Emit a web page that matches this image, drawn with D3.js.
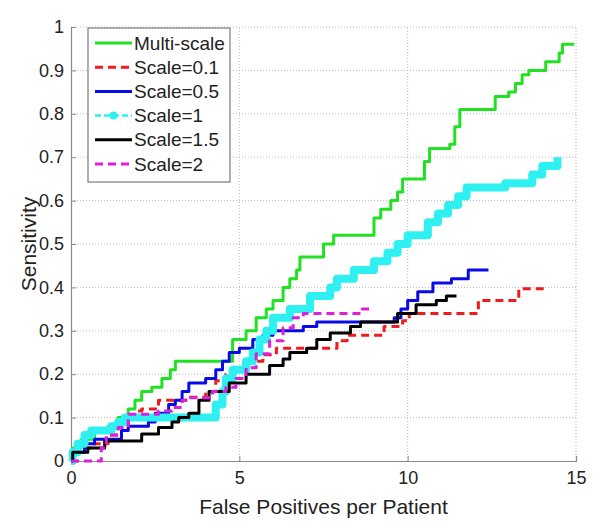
<!DOCTYPE html>
<html>
<head>
<meta charset="utf-8">
<script src="https://cdn.jsdelivr.net/npm/d3@7"></script>
<style>
  html, body { margin: 0; padding: 0; background: #fff; }
  svg { display: block; font-family: "Liberation Sans", Arial, sans-serif; }
</style>
</head>
<body>
<svg id="chart"></svg>
<script>
// [false positives per patient, sensitivity] — step points (value holds until next point)
const multiScale = [[0,0],[0.05,0.03],[0.3,0.05],[0.7,0.07],[1.1,0.08],[1.4,0.10],[1.7,0.12],[1.9,0.14],[2.1,0.16],[2.4,0.17],[2.7,0.19],[2.95,0.21],[3.1,0.23],[4.8,0.28],[5.2,0.30],[5.5,0.33],[5.8,0.35],[6.0,0.37],[6.3,0.40],[6.5,0.42],[6.7,0.44],[6.8,0.47],[7.5,0.50],[7.8,0.52],[9.0,0.56],[9.2,0.58],[9.5,0.60],[9.7,0.62],[9.85,0.65],[10.5,0.69],[10.65,0.72],[11.25,0.73],[11.4,0.77],[11.55,0.81],[12.6,0.84],[13.0,0.85],[13.2,0.87],[13.4,0.89],[13.6,0.90],[14.1,0.92],[14.5,0.94],[14.6,0.96],[14.95,0.96]];
const scale01 = [[0,0],[0.2,0.03],[0.7,0.04],[1.1,0.06],[1.4,0.08],[1.7,0.10],[1.9,0.115],[2.1,0.12],[2.6,0.14],[3.5,0.147],[4.0,0.16],[4.3,0.185],[4.6,0.20],[4.8,0.21],[5.2,0.23],[5.7,0.245],[6.1,0.26],[7.9,0.277],[8.2,0.29],[9.3,0.31],[9.85,0.323],[10.05,0.34],[12.1,0.37],[13.3,0.397],[14.1,0.40]];
const scale05 = [[0,0],[0.1,0.02],[0.4,0.04],[0.7,0.05],[1.5,0.07],[1.7,0.08],[2.3,0.09],[2.5,0.11],[2.9,0.13],[3.1,0.14],[3.3,0.16],[3.5,0.18],[4.0,0.19],[4.3,0.21],[4.5,0.23],[4.7,0.25],[5.0,0.26],[5.4,0.28],[5.7,0.29],[6.0,0.30],[6.9,0.31],[7.3,0.32],[9.6,0.33],[9.8,0.35],[10.0,0.37],[10.3,0.39],[10.75,0.41],[11.3,0.42],[11.8,0.44],[12.4,0.44]];
const scale1 = [[0,0],[0.05,0.02],[0.2,0.04],[0.4,0.06],[0.6,0.07],[1.2,0.08],[1.4,0.09],[1.6,0.10],[4.3,0.13],[4.5,0.16],[4.6,0.19],[4.8,0.21],[5.2,0.23],[5.4,0.25],[5.6,0.28],[5.8,0.30],[6.0,0.33],[6.5,0.35],[7.1,0.38],[7.7,0.40],[7.9,0.42],[8.4,0.44],[9.0,0.46],[9.4,0.48],[9.7,0.50],[10.0,0.52],[10.6,0.55],[10.9,0.57],[11.2,0.59],[11.5,0.61],[11.75,0.63],[12.9,0.64],[13.7,0.66],[14.0,0.68],[14.45,0.70]];
const scale15 = [[0,0],[0.05,0.02],[0.5,0.03],[1.0,0.046],[2.1,0.062],[2.6,0.077],[3.0,0.09],[3.2,0.10],[3.5,0.11],[3.8,0.14],[4.1,0.16],[4.7,0.18],[5.2,0.20],[5.9,0.22],[6.3,0.235],[6.5,0.25],[7.0,0.26],[7.3,0.28],[7.7,0.295],[8.3,0.31],[8.6,0.32],[9.7,0.34],[10.25,0.36],[10.85,0.37],[11.15,0.38],[11.45,0.38]];
const scale2 = [[0,0],[0.9,0.03],[1.05,0.06],[1.4,0.077],[1.7,0.108],[2.6,0.115],[3.0,0.123],[3.3,0.14],[3.5,0.146],[4.2,0.16],[4.6,0.17],[4.9,0.19],[5.2,0.215],[5.5,0.247],[5.9,0.277],[6.3,0.307],[6.6,0.33],[6.9,0.34],[8.65,0.35],[8.95,0.353]];

const seriesNames = ['Multi-scale', 'Scale=0.1', 'Scale=0.5', 'Scale=1', 'Scale=1.5', 'Scale=2'];
const seriesData = [multiScale, scale01, scale05, scale1, scale15, scale2];
const xTicks = [0, 5, 10, 15];
const yTicks = [0, 0.1, 0.2, 0.3, 0.4, 0.5, 0.6, 0.7, 0.8, 0.9, 1];

const styles = [
  { color: '#22e022', width: 3, dash: null },
  { color: '#ee1c1c', width: 3, dash: '8,5' },
  { color: '#0a0ae6', width: 3, dash: null },
  { color: '#2ef0f0', width: 8, dash: null },
  { color: '#000000', width: 3, dash: null },
  { color: '#dd1fdd', width: 3, dash: '8,5' }
];

const width = 600, height = 525;
const margin = { top: 27, right: 24, bottom: 64, left: 71 };

const svg = d3.select('#chart')
  .attr('width', width)
  .attr('height', height)
  .attr('viewBox', `0 0 ${width} ${height}`);

const x = d3.scaleLinear().domain([0, 15]).range([margin.left, width - margin.right]);
const y = d3.scaleLinear().domain([0, 1]).range([height - margin.bottom, margin.top]);

// Grid (dotted)
const grid = svg.append('g').attr('stroke', '#b8b8b8').attr('stroke-width', 1).attr('stroke-dasharray', '1,2');
yTicks.filter(d => d > 0).forEach(d => {
  grid.append('line').attr('x1', x(0)).attr('x2', x(15)).attr('y1', y(d)).attr('y2', y(d));
});
xTicks.filter(d => d > 0).forEach(d => {
  grid.append('line').attr('x1', x(d)).attr('x2', x(d)).attr('y1', y(0)).attr('y2', y(1));
});

// Axes
const xAxis = svg.append('g')
  .attr('transform', `translate(0, ${y(0)})`)
  .call(d3.axisBottom(x).tickValues(xTicks).tickSize(-5).tickPadding(10).tickFormat(d3.format('d')));
const yAxis = svg.append('g')
  .attr('transform', `translate(${x(0)}, 0)`)
  .call(d3.axisLeft(y).tickValues(yTicks).tickSize(-5).tickPadding(7).tickFormat(d => d === 0 || d === 1 ? String(d) : d.toFixed(1)));
[xAxis, yAxis].forEach(a => {
  a.select('.domain').attr('stroke', '#8a8a8a').attr('stroke-width', 1.2);
  a.selectAll('.tick line').attr('stroke', '#8a8a8a');
  a.selectAll('.tick text').attr('fill', '#222').attr('font-size', '18px').attr('font-family', '"Liberation Sans", Arial, sans-serif');
});

// Lines
const line = d3.line().x(d => x(d[0])).y(d => y(d[1])).curve(d3.curveStepAfter);
const plot = svg.append('g');
seriesData.forEach((data, i) => {
  plot.append('path')
    .datum(data)
    .attr('fill', 'none')
    .attr('stroke', styles[i].color)
    .attr('stroke-width', styles[i].width)
    .attr('stroke-linejoin', 'round')
    .attr('stroke-dasharray', styles[i].dash)
    .attr('d', line);
});

// Axis labels
svg.append('text')
  .attr('x', (x(0) + x(15)) / 2)
  .attr('y', 514)
  .attr('text-anchor', 'middle')
  .attr('font-size', '21px')
  .attr('fill', '#222')
  .text('False Positives per Patient');

svg.append('text')
  .attr('transform', `translate(29, ${(y(0) + y(1)) / 2}) rotate(-90)`)
  .attr('text-anchor', 'middle')
  .attr('dy', '0.35em')
  .attr('font-size', '21px')
  .attr('fill', '#222')
  .text('Sensitivity');

// Legend
const legend = svg.append('g');
legend.append('rect')
  .attr('x', 88).attr('y', 28)
  .attr('width', 142).attr('height', 154)
  .attr('fill', '#fff')
  .attr('stroke', '#7a7a7a')
  .attr('stroke-width', 1.2);

seriesNames.forEach((name, i) => {
  const ly = 43 + i * 24.2;
  const st = styles[i];
  legend.append('line')
    .attr('x1', 95).attr('x2', 132).attr('y1', ly).attr('y2', ly)
    .attr('stroke', st.color)
    .attr('stroke-width', i === 3 ? 2.5 : 3)
    .attr('stroke-dasharray', i === 3 ? '6,3' : st.dash);
  if (i === 3) {
    legend.append('circle').attr('cx', 113.5).attr('cy', ly).attr('r', 4).attr('fill', st.color);
  }
  legend.append('text')
    .attr('x', 134).attr('y', ly)
    .attr('dy', '0.35em')
    .attr('font-size', '19px')
    .attr('fill', '#222')
    .text(name);
});
</script>
</body>
</html>
